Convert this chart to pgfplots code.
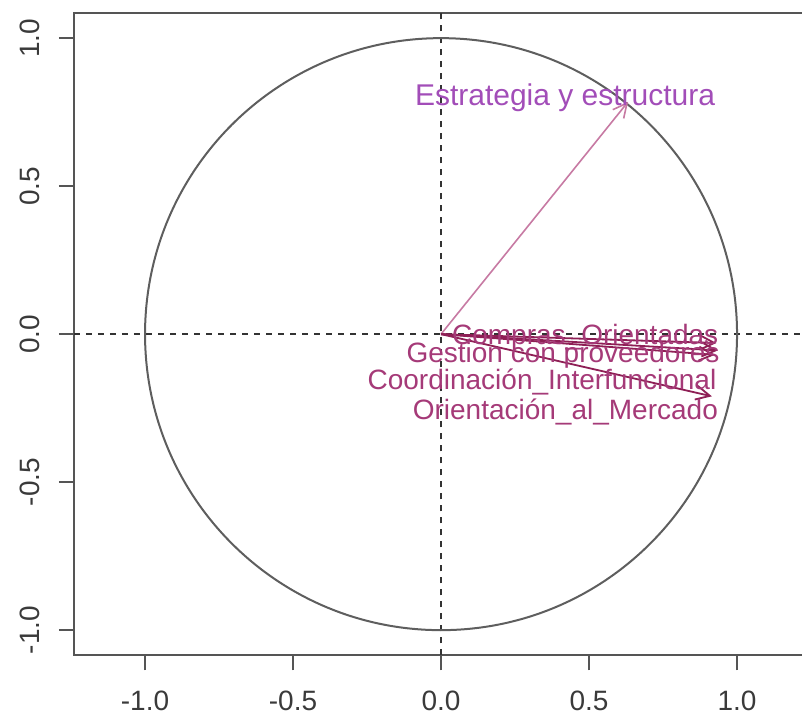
\documentclass[border=0pt]{standalone}
\usepackage{pgfplots}
\pgfplotsset{compat=1.18}
\usepackage{fontspec}
\setmainfont{Liberation Sans}
\usetikzlibrary{arrows.meta}

\definecolor{framegray}{HTML}{555555}
\definecolor{circgray}{HTML}{5E5E5E}
\definecolor{refgray}{HTML}{333333}
\definecolor{ticktext}{HTML}{3A3A3A}
\definecolor{arrowdark}{HTML}{8E1F55}
\definecolor{labeldark}{HTML}{A53A78}
\definecolor{arrowlight}{HTML}{C77AA3}
\definecolor{labellight}{HTML}{A24DB8}

\begin{document}
\begin{tikzpicture}
\begin{axis}[
  at={(0,0)}, anchor=south west,
  scale only axis, width=367.04pt, height=321.16pt,
  xmin=-1.24, xmax=1.24, ymin=-1.085, ymax=1.085,
  axis line style={framegray, line width=1pt},
  xtick={-1,-0.5,0,0.5,1}, ytick={-1,-0.5,0,0.5,1},
  xticklabels={-1.0,-0.5,0.0,0.5,1.0},
  yticklabels={-1.0,-0.5,0.0,0.5,1.0},
  tick align=outside, major tick length=7.5pt,
  xtick pos=bottom, ytick pos=left,
  every tick/.style={framegray, line width=1pt},
  tick label style={font=\fontsize{14}{16}\selectfont, text=ticktext},
  xticklabel style={yshift=-7pt},
  yticklabel style={xshift=-6pt, rotate=90, anchor=south},
  clip=false,
]
% reference lines through the origin
\draw[refgray, line width=0.9pt, dash pattern=on 3pt off 3pt]
  (axis cs:0,-1.085) -- (axis cs:0,1.085);
\draw[refgray, line width=0.9pt, dash pattern=on 3pt off 3pt]
  (axis cs:-1.24,0) -- (axis cs:1.24,0);
% unit correlation circle
\draw[circgray, line width=1pt] (axis cs:0,0) circle [radius=1];

% variable arrows
\addplot[arrowlight, line width=0.8pt, -{Straight Barb[length=7pt,width=7pt]}]
  coordinates {(0,0) (0.632,0.785)};
\addplot[arrowdark, line width=0.9pt, -{Straight Barb[length=7pt,width=7pt]}]
  coordinates {(0,0) (0.930,-0.030)};
\addplot[arrowdark, line width=0.9pt, -{Straight Barb[length=7pt,width=7pt]}]
  coordinates {(0,0) (0.935,-0.055)};
\addplot[arrowdark, line width=0.9pt, -{Straight Barb[length=7pt,width=7pt]}]
  coordinates {(0,0) (0.925,-0.070)};
\addplot[arrowdark, line width=0.9pt, -{Straight Barb[length=7pt,width=7pt]}]
  coordinates {(0,0) (0.915,-0.210)};

% variable names
\node[text=labellight, font=\fontsize{15}{17}\selectfont, inner sep=0pt]
  at (axis cs:0.419,0.797) {Estrategia y estructura};
\node[text=labeldark, font=\fontsize{14}{16}\selectfont, inner sep=0pt]
  at (axis cs:0.487,-0.010) {Compras\_Orientadas};
\node[text=labeldark, font=\fontsize{14}{16}\selectfont, inner sep=0pt]
  at (axis cs:0.412,-0.072) {Gestion con proveedores};
\node[text=labeldark, font=\fontsize{14}{16}\selectfont, inner sep=0pt]
  at (axis cs:0.341,-0.160) {Coordinación\_Interfuncional};
\node[text=labeldark, font=\fontsize{14}{16}\selectfont, inner sep=0pt]
  at (axis cs:0.420,-0.262) {Orientación\_al\_Mercado};
\end{axis}
% page extent: the frame runs past the right edge
\pgfresetboundingbox
\path (-37pt,-30pt) rectangle (364pt,327.66pt);
\end{tikzpicture}
\end{document}
